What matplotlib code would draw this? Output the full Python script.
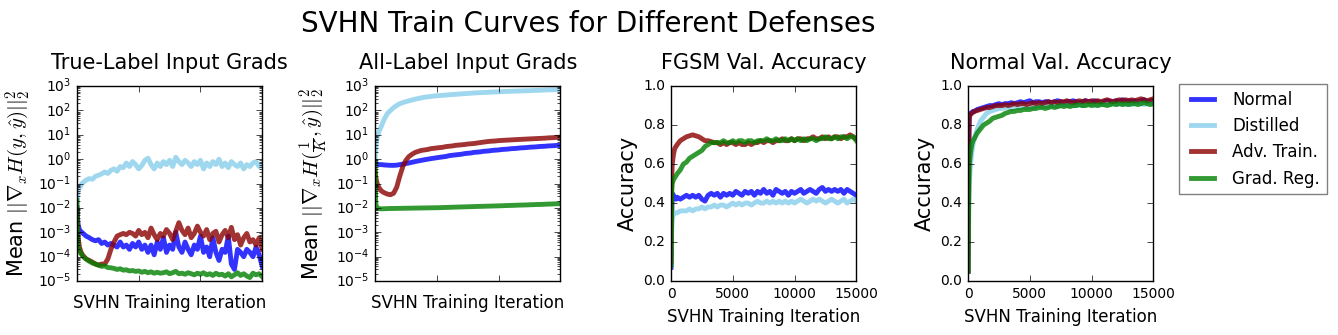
import matplotlib
matplotlib.use("Agg")
import matplotlib.pyplot as plt
import numpy as np

plt.style.use('classic')

iterations = [0, 50, 100, 200, 300, 400,
              500, 750, 1000, 1250, 1500, 1750, 2000, 2250, 2500, 2750,
              3000, 3250, 3500, 3750, 4000, 4250, 4500, 4750, 5000, 5250,
              5500, 5750, 6000, 6250, 6500, 6750, 7000, 7250, 7500, 7750,
              8000, 8250, 8500, 8750, 9000, 9250, 9500, 9750, 10000, 10250,
              10500, 10750, 11000, 11250, 11500, 11750, 12000, 12250, 12500, 12750,
              13000, 13250, 13500, 13750, 14000, 14250, 14500, 14750, 15000]

defenses = ['Normal', 'Distilled', 'Adv. Train.', 'Grad. Reg.']
colors = ['blue', 'skyblue', 'darkred', 'green']

# true-label input gradients
tl_normal = [1e-2, 4e-3, 2e-3, 1.3e-3, 1.1e-3, 1e-3,
             9e-4, 7e-4, 6e-4, 5e-4, 4.5e-4, 5e-4, 3.5e-4, 4e-4, 3e-4, 3.5e-4,
             3e-4, 2.5e-4, 4e-4, 2.5e-4, 3e-4, 2e-4, 3.5e-4, 2.5e-4, 4e-4, 2e-4,
             3e-4, 1.5e-4, 3e-4, 1.2e-4, 4e-4, 2e-4, 6e-4, 1.5e-4, 3e-4, 2e-4,
             1e-3, 2.5e-4, 1.5e-4, 4e-4, 2e-4, 1.2e-4, 3e-4, 2e-4, 7e-4, 1.5e-4,
             2.5e-4, 1e-4, 6e-4, 1.5e-4, 7e-5, 2e-4, 1.5e-4, 7e-4, 5e-5, 3e-5,
             2e-4, 1.5e-4, 1e-4, 2e-4, 1.5e-4, 1e-4, 2.5e-4, 1.2e-4, 4e-5]
tl_distilled = [1.5e-2, 3e-2, 5e-2, 7e-2, 8e-2, 1e-1,
                1.1e-1, 1.4e-1, 1.6e-1, 1.5e-1, 2e-1, 2.2e-1, 2.5e-1, 3e-1, 2.6e-1, 3.5e-1,
                4e-1, 3.2e-1, 5e-1, 4.5e-1, 7e-1, 5e-1, 8e-1, 6e-1, 4e-1, 5.5e-1,
                9e-1, 1.1, 6e-1, 4e-1, 7e-1, 5e-1, 8e-1, 6e-1, 9e-1, 5e-1,
                1.2, 8e-1, 6e-1, 9e-1, 7e-1, 5e-1, 8e-1, 6e-1, 9e-1, 4e-1,
                7e-1, 5e-1, 8e-1, 6e-1, 1.0, 5e-1, 7e-1, 4.5e-1, 8e-1, 6e-1,
                5e-1, 7e-1, 4e-1, 6e-1, 5e-1, 7e-1, 8e-1, 5e-1, 6e-1]
tl_adv = [1e-2, 2e-3, 6e-4, 2.5e-4, 1.7e-4, 1.3e-4,
          1.1e-4, 8e-5, 7e-5, 6e-5, 5e-5, 4.5e-5, 5e-5, 5e-5, 8e-5, 2e-4,
          4e-4, 7e-4, 8e-4, 9e-4, 8e-4, 1e-3, 9e-4, 7e-4, 1.2e-3, 8e-4,
          1e-3, 6e-4, 1.5e-3, 8e-4, 5e-4, 9e-4, 7e-4, 1.3e-3, 9e-4, 5e-4,
          1.1e-3, 2.5e-3, 1.2e-3, 8e-4, 1.5e-3, 6e-4, 9e-4, 1.8e-3, 1e-3, 7e-4,
          1.3e-3, 5e-4, 9e-4, 1.1e-3, 4e-4, 8e-4, 1.2e-3, 6e-4, 1.6e-3, 5e-4,
          8e-4, 3e-4, 6e-4, 9e-4, 4e-4, 5e-4, 3e-4, 6e-4, 2e-4]
tl_grad = [2e-2, 1e-3, 3e-4, 1.8e-4, 1.4e-4, 1.2e-4,
           1e-4, 8e-5, 6.5e-5, 5.5e-5, 5e-5, 4.5e-5, 4e-5, 4.2e-5, 3.6e-5, 3.5e-5,
           3.3e-5, 3e-5, 3.2e-5, 2.8e-5, 2.9e-5, 2.6e-5, 2.7e-5, 2.5e-5, 2.6e-5, 2.3e-5,
           2.5e-5, 2.2e-5, 2.4e-5, 2.1e-5, 2.3e-5, 2.1e-5, 2.2e-5, 2.4e-5, 2e-5, 2.2e-5,
           2.5e-5, 2e-5, 2.1e-5, 1.9e-5, 2.2e-5, 2e-5, 1.8e-5, 2.1e-5, 1.9e-5, 2.2e-5,
           1.8e-5, 2e-5, 1.7e-5, 2.1e-5, 1.8e-5, 1.9e-5, 1.6e-5, 2e-5, 1.5e-5, 1.8e-5,
           2.2e-5, 1.7e-5, 2e-5, 1.6e-5, 1.4e-5, 2.1e-5, 1.8e-5, 2e-5, 1.5e-5]

# all-label input gradients
al_normal = [0.8, 0.7, 0.65, 0.62, 0.6, 0.6,
             0.6, 0.58, 0.57, 0.56, 0.56, 0.57, 0.6, 0.63, 0.67, 0.7,
             0.75, 0.8, 0.85, 0.9, 0.95, 1.0, 1.05, 1.1, 1.15, 1.2,
             1.25, 1.3, 1.4, 1.45, 1.5, 1.55, 1.6, 1.7, 1.75, 1.8,
             1.9, 1.95, 2.0, 2.1, 2.15, 2.2, 2.3, 2.35, 2.4, 2.5,
             2.55, 2.6, 2.7, 2.75, 2.8, 2.9, 2.95, 3.0, 3.1, 3.15,
             3.2, 3.3, 3.35, 3.4, 3.5, 3.55, 3.6, 3.7, 3.6]
al_distilled = [1.0, 2.5, 5, 9, 13, 17,
                22, 45, 75, 100, 130, 160, 190, 210, 230, 250,
                270, 290, 310, 330, 350, 360, 375, 390, 400, 410,
                420, 430, 440, 450, 460, 470, 480, 490, 500, 510,
                520, 530, 540, 545, 550, 560, 570, 575, 580, 590,
                600, 605, 610, 620, 625, 630, 640, 645, 650, 660,
                665, 670, 680, 690, 700, 705, 710, 720, 730]
al_adv = [0.3, 0.2, 0.14, 0.09, 0.07, 0.06,
          0.05, 0.042, 0.037, 0.035, 0.04, 0.07, 0.2, 0.5, 0.9, 1.3,
          1.6, 1.9, 2.1, 2.3, 2.4, 2.5, 2.7, 2.8, 2.9, 3.0,
          3.1, 3.3, 3.4, 3.5, 3.7, 3.8, 3.9, 4.0, 4.2, 4.3,
          4.4, 4.6, 4.8, 5.0, 5.2, 5.4, 5.5, 5.6, 5.8, 5.9,
          6.0, 6.1, 6.2, 6.3, 6.4, 6.5, 6.6, 6.7, 6.8, 6.9,
          7.0, 7.1, 7.2, 7.3, 7.5, 7.6, 7.7, 7.9, 8.0]
al_grad = [0.8, 0.02, 0.011, 0.01, 0.0095, 0.0093,
           0.0092, 0.0093, 0.0094, 0.0095, 0.0095, 0.0096, 0.0096, 0.0097, 0.0097, 0.0098,
           0.0098, 0.0099, 0.0099, 0.01, 0.01, 0.0101, 0.0101, 0.0102, 0.0102, 0.0103,
           0.0104, 0.0105, 0.0106, 0.0107, 0.0108, 0.0109, 0.011, 0.0111, 0.0112, 0.0113,
           0.0114, 0.0115, 0.0116, 0.0117, 0.0118, 0.0119, 0.012, 0.0121, 0.0122, 0.0123,
           0.0125, 0.0126, 0.0127, 0.0128, 0.013, 0.0131, 0.0132, 0.0133, 0.0135, 0.0136,
           0.0138, 0.0139, 0.014, 0.0142, 0.0144, 0.0145, 0.0147, 0.0149, 0.015]

# FGSM validation accuracy
fg_normal = [0.07, 0.30, 0.45, 0.44, 0.43, 0.42,
             0.43, 0.42, 0.43, 0.44, 0.43, 0.44, 0.43, 0.44, 0.42, 0.41,
             0.44, 0.45, 0.44, 0.45, 0.43, 0.45, 0.44, 0.45, 0.44, 0.46,
             0.45, 0.44, 0.46, 0.45, 0.46, 0.44, 0.46, 0.45, 0.47, 0.45,
             0.46, 0.44, 0.47, 0.46, 0.45, 0.46, 0.44, 0.46, 0.45, 0.46,
             0.47, 0.45, 0.46, 0.47, 0.46, 0.45, 0.47, 0.48, 0.46, 0.47,
             0.46, 0.47, 0.46, 0.47, 0.45, 0.47, 0.46, 0.45, 0.44]
fg_distilled = [0.10, 0.25, 0.32, 0.34, 0.35, 0.35,
                0.35, 0.36, 0.36, 0.36, 0.37, 0.36, 0.37, 0.37, 0.38, 0.37,
                0.38, 0.38, 0.39, 0.38, 0.39, 0.39, 0.38, 0.39, 0.40, 0.39,
                0.40, 0.39, 0.40, 0.40, 0.39, 0.40, 0.41, 0.40, 0.40, 0.41,
                0.40, 0.41, 0.40, 0.41, 0.40, 0.41, 0.40, 0.41, 0.40, 0.41,
                0.42, 0.41, 0.40, 0.41, 0.42, 0.41, 0.42, 0.41, 0.40, 0.41,
                0.42, 0.41, 0.40, 0.41, 0.42, 0.40, 0.41, 0.42, 0.41]
fg_adv = [0.10, 0.50, 0.60, 0.65, 0.68, 0.69,
          0.70, 0.72, 0.73, 0.74, 0.745, 0.75, 0.745, 0.74, 0.73, 0.72,
          0.72, 0.715, 0.71, 0.71, 0.70, 0.71, 0.70, 0.71, 0.71, 0.70,
          0.71, 0.70, 0.70, 0.71, 0.70, 0.71, 0.71, 0.72, 0.71, 0.72,
          0.72, 0.71, 0.72, 0.72, 0.73, 0.72, 0.72, 0.73, 0.72, 0.73,
          0.73, 0.72, 0.73, 0.73, 0.74, 0.73, 0.73, 0.74, 0.73, 0.74,
          0.73, 0.74, 0.74, 0.73, 0.74, 0.74, 0.75, 0.74, 0.73]
fg_grad = [0.08, 0.45, 0.50, 0.52, 0.53, 0.54,
           0.55, 0.57, 0.60, 0.61, 0.63, 0.64, 0.65, 0.66, 0.67, 0.69,
           0.70, 0.71, 0.71, 0.71, 0.71, 0.72, 0.71, 0.71, 0.72, 0.71,
           0.72, 0.72, 0.71, 0.72, 0.72, 0.71, 0.72, 0.72, 0.72, 0.73,
           0.72, 0.72, 0.73, 0.72, 0.72, 0.73, 0.72, 0.73, 0.72, 0.73,
           0.72, 0.73, 0.72, 0.73, 0.73, 0.72, 0.73, 0.73, 0.74, 0.73,
           0.73, 0.74, 0.73, 0.74, 0.74, 0.73, 0.74, 0.74, 0.72]

# normal validation accuracy
nv_normal = [0.05, 0.70, 0.85, 0.86, 0.865, 0.87,
             0.87, 0.88, 0.885, 0.89, 0.895, 0.90, 0.90, 0.905, 0.91, 0.905,
             0.91, 0.91, 0.915, 0.91, 0.915, 0.92, 0.915, 0.92, 0.925, 0.915,
             0.92, 0.92, 0.915, 0.92, 0.92, 0.915, 0.92, 0.925, 0.92, 0.915,
             0.92, 0.92, 0.925, 0.92, 0.915, 0.92, 0.925, 0.92, 0.92, 0.925,
             0.92, 0.915, 0.92, 0.925, 0.92, 0.92, 0.925, 0.92, 0.93, 0.92,
             0.925, 0.92, 0.925, 0.92, 0.925, 0.93, 0.92, 0.925, 0.925]
nv_distilled = [0.05, 0.30, 0.50, 0.60, 0.66, 0.70,
                0.73, 0.78, 0.82, 0.84, 0.86, 0.87, 0.875, 0.88, 0.885, 0.885,
                0.89, 0.89, 0.885, 0.89, 0.895, 0.89, 0.895, 0.89, 0.895, 0.89,
                0.895, 0.9, 0.895, 0.9, 0.895, 0.9, 0.9, 0.895, 0.9, 0.905,
                0.9, 0.905, 0.9, 0.9, 0.905, 0.9, 0.905, 0.91, 0.905, 0.9,
                0.905, 0.91, 0.905, 0.91, 0.905, 0.91, 0.905, 0.91, 0.91, 0.905,
                0.91, 0.905, 0.91, 0.915, 0.91, 0.905, 0.91, 0.915, 0.91]
nv_adv = [0.05, 0.60, 0.84, 0.855, 0.86, 0.865,
          0.87, 0.875, 0.88, 0.885, 0.89, 0.89, 0.895, 0.90, 0.90, 0.90,
          0.905, 0.9, 0.905, 0.91, 0.905, 0.91, 0.91, 0.905, 0.91, 0.915,
          0.91, 0.915, 0.91, 0.915, 0.92, 0.915, 0.92, 0.915, 0.92, 0.92,
          0.925, 0.92, 0.915, 0.92, 0.925, 0.92, 0.925, 0.92, 0.925, 0.92,
          0.925, 0.92, 0.925, 0.93, 0.925, 0.92, 0.925, 0.93, 0.925, 0.93,
          0.925, 0.93, 0.925, 0.93, 0.935, 0.93, 0.925, 0.93, 0.935]
nv_grad = [0.05, 0.40, 0.60, 0.66, 0.70, 0.72,
           0.73, 0.76, 0.78, 0.80, 0.81, 0.82, 0.835, 0.84, 0.845, 0.85,
           0.86, 0.865, 0.87, 0.87, 0.875, 0.875, 0.88, 0.88, 0.88, 0.885,
           0.885, 0.89, 0.89, 0.885, 0.89, 0.895, 0.89, 0.895, 0.9, 0.895,
           0.9, 0.895, 0.9, 0.9, 0.905, 0.9, 0.9, 0.905, 0.9, 0.905,
           0.9, 0.905, 0.905, 0.9, 0.905, 0.91, 0.905, 0.91, 0.905, 0.91,
           0.905, 0.91, 0.91, 0.905, 0.91, 0.915, 0.91, 0.905, 0.91]

panels = [
    ('True-Label Input Grads', [tl_normal, tl_distilled, tl_adv, tl_grad],
     r'Mean $||\nabla_x H(y,\hat{y})||_2^2$', True),
    ('All-Label Input Grads', [al_normal, al_distilled, al_adv, al_grad],
     r'Mean $||\nabla_x H(\frac{1}{K},\hat{y})||_2^2$', True),
    ('FGSM Val. Accuracy', [fg_normal, fg_distilled, fg_adv, fg_grad], 'Accuracy', False),
    ('Normal Val. Accuracy', [nv_normal, nv_distilled, nv_adv, nv_grad], 'Accuracy', False),
]

fig = plt.figure(figsize=(13.38, 3.35), dpi=100, facecolor='white')
lefts = [0.0575, 0.2803, 0.5015, 0.7235]

for i, (title, series, ylabel, logscale) in enumerate(panels):
    ax = fig.add_axes([lefts[i], 0.161, 0.1385, 0.582])
    for vals, name, c in zip(series, defenses, colors):
        ax.plot(iterations, vals, color=c, alpha=0.8, lw=3.5, label=name)
    ax.set_xlim(0, 15000)
    ax.set_xticks([0, 5000, 10000, 15000])
    if logscale:
        ax.set_yscale('log')
        ax.set_ylim(1e-5, 1e3)
        ax.set_xticklabels([])
    else:
        ax.set_ylim(0, 1)
    ax.tick_params(labelsize=10)
    ax.set_title(title, fontsize=15, pad=12)
    ax.set_ylabel(ylabel, fontsize=15, labelpad=4)
    ax.set_xlabel('SVHN Training Iteration', fontsize=12)

ax.legend(loc='upper left', bbox_to_anchor=(0.8812, 0.7493), bbox_transform=fig.transFigure,
          borderaxespad=0, fontsize=12, frameon=True, edgecolor='gray')

fig.suptitle('SVHN Train Curves for Different Defenses', fontsize=20, x=0.44, y=0.97)

fig.savefig('out.png', dpi=100, facecolor='white')
